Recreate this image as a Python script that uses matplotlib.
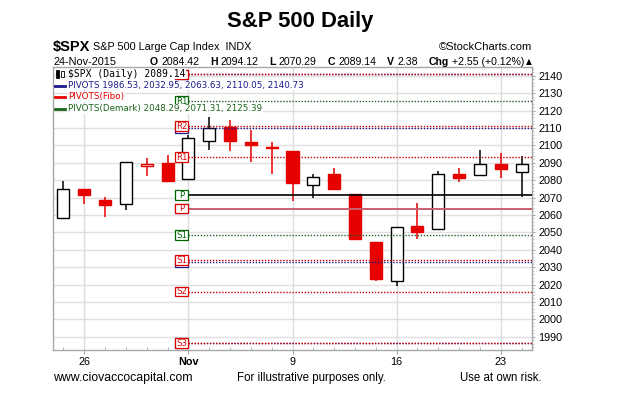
import matplotlib
matplotlib.use('Agg')
import matplotlib.pyplot as plt
from matplotlib.patches import Rectangle
from matplotlib.lines import Line2D

plt.rcParams['font.family'] = ['Liberation Sans', 'DejaVu Sans']

# daily OHLC, $SPX
dates = ['2015-10-23', '2015-10-26', '2015-10-27', '2015-10-28', '2015-10-29', '2015-10-30',
         '2015-11-02', '2015-11-03', '2015-11-04', '2015-11-05', '2015-11-06',
         '2015-11-09', '2015-11-10', '2015-11-11', '2015-11-12', '2015-11-13',
         '2015-11-16', '2015-11-17', '2015-11-18', '2015-11-19', '2015-11-20',
         '2015-11-23', '2015-11-24']
opens = [2058.19, 2075.08, 2068.75, 2066.48, 2088.35, 2090.00,
         2080.76, 2102.63, 2110.60, 2101.68, 2098.60,
         2096.56, 2077.19, 2083.41, 2072.29, 2044.64,
         2022.08, 2053.67, 2051.99, 2083.70, 2082.82,
         2089.41, 2084.42]
highs = [2079.74, 2075.14, 2070.37, 2090.35, 2092.52, 2094.32,
         2106.20, 2116.48, 2114.59, 2108.78, 2101.91,
         2096.56, 2083.67, 2086.94, 2072.29, 2044.64,
         2053.22, 2066.69, 2085.31, 2086.74, 2097.06,
         2095.61, 2094.12]
lows = [2058.19, 2066.53, 2058.84, 2063.11, 2082.63, 2079.34,
        2080.76, 2097.51, 2096.98, 2090.41, 2083.74,
        2068.24, 2069.91, 2074.85, 2045.66, 2022.02,
        2019.39, 2045.90, 2051.99, 2078.76, 2082.82,
        2081.39, 2070.29]
closes = [2075.15, 2071.18, 2065.89, 2090.35, 2089.41, 2079.36,
          2104.05, 2109.79, 2102.31, 2099.93, 2099.20,
          2078.58, 2081.72, 2075.00, 2045.97, 2023.04,
          2053.19, 2050.44, 2083.58, 2081.24, 2089.17,
          2086.59, 2089.14]
prev_close = 2052.51

# monthly pivots, drawn from the first November session
pivot_start = '2015-11-02'
std_levels = [1986.53, 2032.95, 2063.63, 2110.05, 2140.73]
std_names = ['S2', 'S1', 'P', 'R1', 'R2']
fibo_levels = [1986.53, 2015.98, 2034.18, 2063.63, 2093.08, 2111.28, 2140.73]
fibo_names = ['S3', 'S2', 'S1', 'P', 'R1', 'R2', 'R3']
demark_levels = [2048.29, 2071.31, 2125.39]
demark_names = ['S1', 'P', 'R1']

tick_dates = ['2015-10-26', '2015-11-02', '2015-11-09', '2015-11-16', '2015-11-23']
tick_labels = ['26', 'Nov', '9', '16', '23']
yticks = list(range(1990, 2141, 10))

RED = '#e60000'
W, H = 625, 394


def fx(px):
    return px / W


def fy(py):
    return 1 - py / H


fig = plt.figure(figsize=(6.25, 3.94), dpi=100)
ax = fig.add_axes([fx(53), fy(350), fx(532) - fx(53), fy(67) - fy(350)])

n = len(dates)
ax.set_xlim(-0.5, n - 0.5)
ax.set_ylim(1982.4, 2145)

# grid
for y in yticks:
    ax.axhline(y, color='#e0e0e0', lw=1.0, zorder=0)
tick_pos = [dates.index(d) for d in tick_dates]
for x in tick_pos:
    ax.axvline(x, color='#dcdcdc', lw=1.0, zorder=0)

# candles
bw = 0.58
pc = prev_close
for i in range(n):
    o, h, l, c = opens[i], highs[i], lows[i], closes[i]
    col = 'black' if c >= pc else RED
    filled = c < o
    ax.plot([i, i], [l, h], color=col, lw=1.1, zorder=3, solid_capstyle='butt')
    bottom = min(o, c)
    ht = max(abs(c - o), 0.3)
    ax.add_patch(Rectangle((i - bw / 2, bottom), bw, ht,
                           facecolor=col if filled else 'white',
                           edgecolor=col, lw=1.0, zorder=4))
    pc = c

# pivot lines + labels
s = dates.index(pivot_start)
xmax = n - 0.5
box_w, box_h = 0.66, 5.6
hidden = 2140.73  # label sits under the legend


def draw_pivots(levels, names, dot_col, p_col, txt_col, z, labels=True):
    for v, nm in zip(levels, names):
        if nm == 'P':
            ax.plot([s, xmax], [v, v], color=p_col, lw=1.2, zorder=z)
        else:
            ax.plot([s, xmax], [v, v], color=dot_col, lw=1.0,
                    linestyle=(0, (1, 1.2)), zorder=z)
        ax.add_patch(Rectangle((s - box_w, v - box_h / 2), box_w, box_h,
                               facecolor='white', edgecolor=txt_col, lw=0.9,
                               zorder=z + 0.5, clip_on=False))
        if labels and v != hidden:
            ax.text(s - box_w / 2, v - 0.2, nm, color=txt_col, fontsize=6.2,
                    ha='center', va='center', zorder=z + 0.6,
                    family=['DejaVu Sans'])


# standard pivot boxes sit under the fibo ones, only their edge peeks out
draw_pivots(std_levels, std_names, '#1a1a8c', '#1a1a8c', '#1a1a8c', 5, labels=False)
draw_pivots(fibo_levels, fibo_names, '#cc0000', '#ea6a6a', '#dd0000', 6)
draw_pivots(demark_levels, demark_names, '#2d5a2d', 'black', '#006400', 7)

# axes styling
for sp in ax.spines.values():
    sp.set_color('#a8a8a8')
    sp.set_linewidth(1.0)
ax.yaxis.tick_right()
ax.set_yticks(yticks)
ax.set_yticklabels([str(y) for y in yticks], fontsize=7.8)
ax.set_yticks(range(1984, 2146, 2), minor=True)
ax.tick_params(axis='y', which='major', length=2, color='#a8a8a8', pad=2.5)
ax.tick_params(axis='y', which='minor', length=1.2, color='#b8b8b8')
ax.set_xticks(tick_pos)
ax.set_xticklabels(tick_labels, fontsize=7.8)
ax.set_xticks(range(n), minor=True)
ax.tick_params(axis='x', which='major', length=3, color='#a8a8a8', pad=2)
ax.tick_params(axis='x', which='minor', length=2, direction='in', color='#a8a8a8')
ax.get_xticklabels()[1].set_fontweight('bold')

# in-chart legend
leg_font = ['DejaVu Sans']
bb = dict(facecolor='white', edgecolor='none', pad=0.3)
fig.text(fx(68), fy(74), '$SPX (Daily) 2089.14', fontsize=7.0, va='center',
         family=['DejaVu Sans Mono'], bbox=bb, zorder=10)
fig.add_artist(Rectangle((fx(56), fy(78)), fx(3), fy(70) - fy(78), facecolor='black',
                         edgecolor='black', lw=0.6, zorder=11))
fig.add_artist(Rectangle((fx(61), fy(77)), fx(3), fy(71) - fy(77), facecolor='white',
                         edgecolor='black', lw=0.6, zorder=11))
leg_rows = [('PIVOTS 1986.53, 2032.95, 2063.63, 2110.05, 2140.73', '#1a1a8c', 85.5),
            ('PIVOTS(Fibo)', RED, 97),
            ('PIVOTS(Demark) 2048.29, 2071.31, 2125.39', '#1a641a', 109)]
for txt, col, py in leg_rows:
    fig.add_artist(Line2D([fx(55), fx(65)], [fy(py), fy(py)], color=col, lw=2, zorder=11))
    fig.text(fx(68), fy(py), txt, fontsize=6.35, va='center', color=col,
             family=leg_font, bbox=bb, zorder=10)

# header
fig.text(fx(300), fy(21), 'S&P 500 Daily', fontsize=15.8, fontweight='bold',
         ha='center', va='center')
fig.text(fx(53), fy(47), '$SPX', fontsize=10.5, fontweight='bold', va='center')
fig.text(fx(93), fy(47), 'S&P 500 Large Cap Index  INDX', fontsize=7.8, va='center')
fig.text(fx(532), fy(47), '\u00a9StockCharts.com', fontsize=8.0, va='center', ha='right')
fig.text(fx(53), fy(62), '24-Nov-2015', fontsize=7.8, va='center')

# quote line: laid out left to right from measured widths
quote = [('O', '2084.42'), ('H', '2094.12'), ('L', '2070.29'), ('C', '2089.14'),
         ('V', '2.38'), ('Chg', '+2.55 (+0.12%)')]
renderer = fig.canvas.get_renderer()
parts = []
for lab, val in quote:
    t1 = fig.text(0, fy(62), lab, fontsize=7.6, va='center', fontweight='bold')
    t2 = fig.text(0, fy(62), val, fontsize=7.6, va='center')
    w1 = t1.get_window_extent(renderer).width
    w2 = t2.get_window_extent(renderer).width
    parts.append((t1, t2, w1, w2))
inner = 3
x0, x1 = 150, 524
total = sum(w1 + inner + w2 for _, _, w1, w2 in parts)
gap = (x1 - x0 - total) / (len(parts) - 1)
x = x0
for t1, t2, w1, w2 in parts:
    t1.set_x(fx(x))
    t2.set_x(fx(x + w1 + inner))
    x += w1 + inner + w2 + gap
fig.text(fx(526), fy(62), '\u25b2', fontsize=5.5, va='center', family=['DejaVu Sans'])

# footer
fig.text(fx(53), fy(378), 'www.ciovaccocapital.com', fontsize=8.8, va='center')
fig.text(fx(237), fy(378), 'For illustrative purposes only.', fontsize=8.3, va='center')
fig.text(fx(460), fy(378), 'Use at own risk.', fontsize=8.3, va='center')

fig.savefig('out.png', dpi=100)
